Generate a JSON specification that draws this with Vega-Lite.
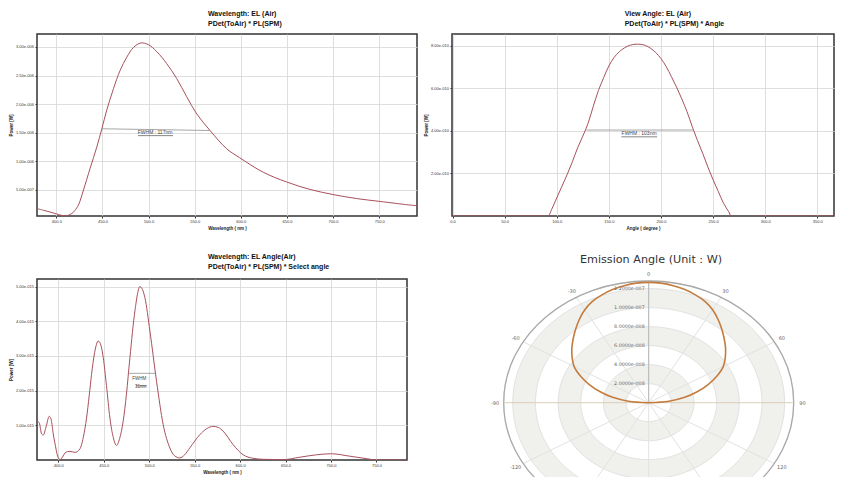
{
  "$schema": "https://vega.github.io/schema/vega-lite/v6.json",
  "background": "white",
  "padding": {"left": 7, "top": 9, "right": 0, "bottom": 0},
  "columns": 2,
  "spacing": {"row": 63, "column": 35},
  "bounds": "flush",
  "align": "each",
  "config": {
    "font": "Liberation Sans",
    "view": {"stroke": "#333333", "strokeWidth": 1.5},
    "axis": {"labelFontSize": 4, "titleFontSize": 4.5, "titleFontWeight": "bold", "labelColor": "#333333", "titleColor": "#222222", "gridColor": "#d6d6d6", "gridWidth": 0.8, "domain": false, "tickColor": "#333333", "tickSize": 2, "tickWidth": 1, "labelPadding": 1.5, "titlePadding": 2, "labelFont": "Liberation Sans", "titleFont": "Liberation Sans", "labelFlush": false, "labelOverlap": false, "tickCount": 20},
    "title": {"font": "Liberation Sans", "fontSize": 7, "fontWeight": "bold", "color": "#111111", "anchor": "start", "align": "left", "lineHeight": 10, "offset": 7, "frame": "group"}
  },
  "concat": [
    {
      "width": 380, "height": 182,
      "title": {"text": ["Wavelength: EL (Air)", "PDet(ToAir) * PL(SPM)"], "dx": 171},
      "layer": [
        {
          "data": {"values": [
            {"wl": 379, "p": 1.75e-7}, {"wl": 386, "p": 1.45e-7}, {"wl": 393, "p": 1.15e-7}, {"wl": 400, "p": 8.2e-8},
            {"wl": 405, "p": 5.8e-8}, {"wl": 409.5, "p": 4.8e-8}, {"wl": 413, "p": 5.8e-8}, {"wl": 416.8, "p": 9e-8},
            {"wl": 420, "p": 1.4e-7}, {"wl": 424, "p": 2.4e-7}, {"wl": 429.4, "p": 5.0e-7}, {"wl": 436.6, "p": 8.8e-7},
            {"wl": 443.8, "p": 1.25e-6}, {"wl": 449.3, "p": 1.57e-6}, {"wl": 454.7, "p": 1.9e-6}, {"wl": 461.9, "p": 2.27e-6},
            {"wl": 469.1, "p": 2.59e-6}, {"wl": 476.3, "p": 2.82e-6}, {"wl": 483.5, "p": 2.99e-6}, {"wl": 491.5, "p": 3.07e-6},
            {"wl": 499.8, "p": 3.04e-6}, {"wl": 508.8, "p": 2.92e-6}, {"wl": 519.6, "p": 2.71e-6}, {"wl": 530.4, "p": 2.45e-6},
            {"wl": 541.3, "p": 2.13e-6}, {"wl": 552.2, "p": 1.83e-6}, {"wl": 566.6, "p": 1.54e-6}, {"wl": 584.7, "p": 1.22e-6},
            {"wl": 598.6, "p": 1.065e-6}, {"wl": 624.3, "p": 8.1e-7}, {"wl": 649.6, "p": 6.4e-7}, {"wl": 674.9, "p": 5.1e-7},
            {"wl": 700.1, "p": 4.2e-7}, {"wl": 725.5, "p": 3.5e-7}, {"wl": 750.7, "p": 3.0e-7}, {"wl": 781.4, "p": 2.4e-7},
            {"wl": 791, "p": 2.25e-7}
          ]},
          "mark": {"type": "line", "color": "#a8505c", "strokeWidth": 1, "interpolate": "catmull-rom", "clip": true},
          "encoding": {
            "x": {"field": "wl", "type": "quantitative", "scale": {"domain": [379, 791], "nice": false, "zero": false},
                  "axis": {"title": "Wavelength ( nm )", "values": [400, 450, 500, 550, 600, 650, 700, 750], "format": ".1f"}},
            "y": {"field": "p", "type": "quantitative", "scale": {"domain": [4.5e-8, 3.227e-6], "nice": false, "zero": false},
                  "axis": {"title": "Power [W]", "values": [5e-7, 1e-6, 1.5e-6, 2e-6, 2.5e-6, 3e-6], "labelExpr": "replace(format(datum.value, '.2e'), 'e-', 'e-00')"}}
          }
        },
        {
          "data": {"values": [
            {"wl": 449.5, "wl2": 566.6, "p": 1.57e-6, "p2": 1.54e-6, "kind": "fwhm"},
            {"wl": 488.5, "wl2": 526.5, "p": 1.45e-6, "p2": 1.45e-6, "kind": "underline"}
          ]},
          "mark": {"type": "rule", "strokeWidth": 0.8},
          "encoding": {
            "x": {"field": "wl", "type": "quantitative"}, "x2": {"field": "wl2"},
            "y": {"field": "p", "type": "quantitative"}, "y2": {"field": "p2"},
            "color": {"field": "kind", "type": "nominal", "scale": {"domain": ["fwhm", "underline"], "range": ["#8f8f8f", "#666666"]}, "legend": null}
          }
        },
        {
          "data": {"values": [{"wl": 507, "p": 1.51e-6, "label": "FWHM : 117nm"}]},
          "mark": {"type": "text", "fontSize": 5, "color": "#444444", "baseline": "middle"},
          "encoding": {"x": {"field": "wl", "type": "quantitative"}, "y": {"field": "p", "type": "quantitative"}, "text": {"field": "label", "type": "nominal"}}
        }
      ]
    },
    {
      "width": 382, "height": 182,
      "title": {"text": ["View Angle: EL (Air)", "PDet(ToAir) * PL(SPM) * Angle"], "dx": 172.7},
      "layer": [
        {
          "data": {"values": [
            {"angle": 0, "p": 0}, {"angle": 85, "p": 0}, {"angle": 91.7, "p": 0}, {"angle": 95, "p": 3e-11},
            {"angle": 100, "p": 8.5e-11}, {"angle": 105, "p": 1.4e-10}, {"angle": 110, "p": 1.95e-10}, {"angle": 115, "p": 2.55e-10},
            {"angle": 120, "p": 3.2e-10}, {"angle": 125, "p": 3.75e-10}, {"angle": 130, "p": 4.35e-10}, {"angle": 135, "p": 5.15e-10},
            {"angle": 140, "p": 5.9e-10}, {"angle": 145, "p": 6.5e-10}, {"angle": 150, "p": 7.05e-10}, {"angle": 155, "p": 7.45e-10},
            {"angle": 160, "p": 7.72e-10}, {"angle": 165, "p": 7.9e-10}, {"angle": 170, "p": 8.02e-10}, {"angle": 175, "p": 8.07e-10},
            {"angle": 180, "p": 8.07e-10}, {"angle": 185, "p": 8.02e-10}, {"angle": 190, "p": 7.88e-10}, {"angle": 195, "p": 7.68e-10},
            {"angle": 200, "p": 7.4e-10}, {"angle": 205, "p": 7.02e-10}, {"angle": 210, "p": 6.55e-10}, {"angle": 215, "p": 6.05e-10},
            {"angle": 220, "p": 5.5e-10}, {"angle": 225, "p": 4.9e-10}, {"angle": 230, "p": 4.2e-10}, {"angle": 235, "p": 3.55e-10},
            {"angle": 240, "p": 2.95e-10}, {"angle": 245, "p": 2.3e-10}, {"angle": 250, "p": 1.7e-10}, {"angle": 255, "p": 1.15e-10},
            {"angle": 260, "p": 6e-11}, {"angle": 265, "p": 2e-11}, {"angle": 267.5, "p": 0}, {"angle": 300, "p": 0}, {"angle": 366, "p": 0}
          ]},
          "mark": {"type": "line", "color": "#a8505c", "strokeWidth": 1, "interpolate": "catmull-rom", "clip": true},
          "encoding": {
            "x": {"field": "angle", "type": "quantitative", "scale": {"domain": [-0.5, 366], "nice": false, "zero": false},
                  "axis": {"title": "Angle ( degree )", "values": [0, 50, 100, 150, 200, 250, 300, 350], "format": ".1f"}},
            "y": {"field": "p", "type": "quantitative", "scale": {"domain": [0, 8.553e-10], "nice": false, "zero": false},
                  "axis": {"title": "Power [W]", "values": [2e-10, 4e-10, 6e-10, 8e-10], "labelExpr": "replace(format(datum.value, '.2e'), 'e-', 'e-0')"}}
          }
        },
        {
          "data": {"values": [
            {"angle": 128.5, "angle2": 230.7, "p": 4.04e-10, "kind": "fwhm"},
            {"angle": 162, "angle2": 196.3, "p": 3.72e-10, "kind": "underline"}
          ]},
          "mark": {"type": "rule", "strokeWidth": 0.8},
          "encoding": {
            "x": {"field": "angle", "type": "quantitative"}, "x2": {"field": "angle2"},
            "y": {"field": "p", "type": "quantitative"},
            "color": {"field": "kind", "type": "nominal", "scale": {"domain": ["fwhm", "underline"], "range": ["#8f8f8f", "#666666"]}, "legend": null}
          }
        },
        {
          "data": {"values": [{"angle": 179, "p": 3.88e-10, "label": "FWHM : 103nm"}]},
          "mark": {"type": "text", "fontSize": 5, "color": "#444444", "baseline": "middle"},
          "encoding": {"x": {"field": "angle", "type": "quantitative"}, "y": {"field": "p", "type": "quantitative"}, "text": {"field": "label", "type": "nominal"}}
        }
      ]
    },
    {
      "width": 370, "height": 181,
      "title": {"text": ["Wavelength: EL Angle(Air)", "PDet(ToAir) * PL(SPM) * Select angle"], "dx": 171, "offset": 9},
      "layer": [
        {
          "data": {"values": [
            {"wl": 376.6, "p": 1.12e-15}, {"wl": 379.1, "p": 1.07e-15}, {"wl": 381.7, "p": 7.5e-16}, {"wl": 383.5, "p": 7.2e-16},
            {"wl": 386.5, "p": 9.5e-16}, {"wl": 390.1, "p": 1.26e-15}, {"wl": 392.3, "p": 1.15e-15}, {"wl": 394.5, "p": 7.5e-16},
            {"wl": 396.8, "p": 4.2e-16}, {"wl": 398.9, "p": 1.5e-16}, {"wl": 401.8, "p": 1e-17}, {"wl": 404.5, "p": 8e-17},
            {"wl": 407.3, "p": 2.0e-16}, {"wl": 410, "p": 2.4e-16}, {"wl": 412.8, "p": 2.5e-16}, {"wl": 418.3, "p": 2.2e-16},
            {"wl": 423.8, "p": 3.2e-16}, {"wl": 427.5, "p": 6.5e-16}, {"wl": 431.1, "p": 1.21e-15}, {"wl": 434, "p": 1.85e-15},
            {"wl": 436.6, "p": 2.47e-15}, {"wl": 440, "p": 3.1e-15}, {"wl": 444, "p": 3.43e-15}, {"wl": 447, "p": 3.3e-15},
            {"wl": 449.5, "p": 2.95e-15}, {"wl": 453, "p": 2.15e-15}, {"wl": 456.8, "p": 1.21e-15}, {"wl": 460.5, "p": 6.5e-16},
            {"wl": 464.1, "p": 4.2e-16}, {"wl": 467.5, "p": 6.2e-16}, {"wl": 471.4, "p": 1.12e-15}, {"wl": 475, "p": 1.9e-15},
            {"wl": 478.8, "p": 2.95e-15}, {"wl": 484.3, "p": 4.3e-15}, {"wl": 489.8, "p": 5.0e-15}, {"wl": 495.3, "p": 4.68e-15},
            {"wl": 500.8, "p": 3.72e-15}, {"wl": 508.1, "p": 2.27e-15}, {"wl": 515.4, "p": 1.02e-15}, {"wl": 522.7, "p": 3.5e-16},
            {"wl": 528, "p": 1.2e-16}, {"wl": 533.7, "p": 6e-17}, {"wl": 539, "p": 1.5e-16}, {"wl": 544.7, "p": 3.5e-16},
            {"wl": 555.7, "p": 7.3e-16}, {"wl": 563, "p": 9.0e-16}, {"wl": 570.4, "p": 9.7e-16}, {"wl": 576, "p": 9.4e-16},
            {"wl": 581.4, "p": 8.3e-16}, {"wl": 592.4, "p": 4.4e-16}, {"wl": 603.4, "p": 1.5e-16}, {"wl": 614, "p": 5e-17},
            {"wl": 625.3, "p": 2e-17}, {"wl": 647.3, "p": 1e-17}, {"wl": 665.6, "p": 8e-17}, {"wl": 684, "p": 1.5e-16},
            {"wl": 700.4, "p": 1.8e-16}, {"wl": 720.6, "p": 1.1e-16}, {"wl": 738.9, "p": 4e-17}, {"wl": 749.9, "p": 0},
            {"wl": 783.6, "p": 0}
          ]},
          "mark": {"type": "line", "color": "#a8505c", "strokeWidth": 1, "interpolate": "monotone", "clip": true},
          "encoding": {
            "x": {"field": "wl", "type": "quantitative", "scale": {"domain": [376.6, 783.6], "nice": false, "zero": false},
                  "axis": {"title": "Wavelength ( nm )", "values": [400, 450, 500, 550, 600, 650, 700, 750], "format": ".1f"}},
            "y": {"field": "p", "type": "quantitative", "scale": {"domain": [0, 5.22e-15], "nice": false, "zero": false},
                  "axis": {"title": "Power [W]", "values": [1e-15, 2e-15, 3e-15, 4e-15, 5e-15], "labelExpr": "replace(format(datum.value, '.2e'), 'e-', 'e-0')"}}
          }
        },
        {
          "data": {"values": [
            {"wl": 476.5, "wl2": 506.5, "p": 2.5e-15, "kind": "fwhm"},
            {"wl": 485.5, "wl2": 497.5, "p": 2.14e-15, "kind": "underline"}
          ]},
          "mark": {"type": "rule", "strokeWidth": 0.8},
          "encoding": {
            "x": {"field": "wl", "type": "quantitative"}, "x2": {"field": "wl2"},
            "y": {"field": "p", "type": "quantitative"},
            "color": {"field": "kind", "type": "nominal", "scale": {"domain": ["fwhm", "underline"], "range": ["#8f8f8f", "#666666"]}, "legend": null}
          }
        },
        {
          "data": {"values": [{"wl": 490.5, "p": 2.33e-15, "label": "FWHM :|31nm"}]},
          "transform": [{"calculate": "split(datum.label, '|')", "as": "lines"}],
          "mark": {"type": "text", "fontSize": 4.5, "color": "#444444", "baseline": "middle", "lineHeight": 7.5},
          "encoding": {"x": {"field": "wl", "type": "quantitative"}, "y": {"field": "p", "type": "quantitative"}, "text": {"field": "lines"}}
        }
      ]
    },
    {
      "width": 382, "height": 240,
      "view": {"stroke": null},
      "title": {"text": "Emission Angle (Unit : W)", "font": "DejaVu Sans", "fontSize": 11.2, "fontWeight": "normal", "color": "#333333", "anchor": "middle", "align": "center", "dx": 8, "offset": 6},
      "layer": [
        {
          "data": {"values": [
            {"r": 1.28e-7, "band": "w"}, {"r": 1.2e-7, "band": "g"}, {"r": 1.0e-7, "band": "w"},
            {"r": 8e-8, "band": "g"}, {"r": 6e-8, "band": "w"}, {"r": 4e-8, "band": "g"}, {"r": 2e-8, "band": "w"}
          ]},
          "transform": [{"calculate": "0", "as": "o"}],
          "mark": {"type": "point", "shape": "M-1,0A1,0.8393,0,1,1,1,0A1,0.8393,0,1,1,-1,0Z", "filled": true, "opacity": 1, "stroke": "#e2e2e2", "strokeWidth": 1},
          "encoding": {
            "x": {"field": "o", "type": "quantitative", "scale": {"domain": [-1.7364e-7, 1.6358e-7], "nice": false, "zero": false}, "axis": null},
            "y": {"field": "o", "type": "quantitative", "scale": {"domain": [-1.2232e-7, 1.301e-7], "nice": false, "zero": false}, "axis": null},
            "size": {"field": "r", "type": "quantitative", "scale": {"type": "pow", "exponent": 2, "domain": [0, 1.28e-7], "range": [0, 84100]}, "legend": null},
            "fill": {"field": "band", "type": "nominal", "scale": {"domain": ["w", "g"], "range": ["#ffffff", "#f0f0ed"]}, "legend": null}
          }
        },
        {
          "data": {"values": [{"angle": 0}, {"angle": 30}, {"angle": 60}, {"angle": 120}, {"angle": 150}, {"angle": 180}, {"angle": 210}, {"angle": 240}, {"angle": 300}, {"angle": 330}]},
          "transform": [
            {"calculate": "0", "as": "o"},
            {"calculate": "1.28e-7 * sin(datum.angle * PI / 180)", "as": "ex"},
            {"calculate": "1.28e-7 * cos(datum.angle * PI / 180)", "as": "ey"}
          ],
          "mark": {"type": "rule", "color": "#e2e2e2", "strokeWidth": 1},
          "encoding": {
            "x": {"field": "o", "type": "quantitative", "axis": null},
            "y": {"field": "o", "type": "quantitative", "axis": null},
            "x2": {"field": "ex"},
            "y2": {"field": "ey"}
          }
        },
        {
          "data": {"values": [{"r": 1.28e-7}]},
          "transform": [{"calculate": "0", "as": "o"}],
          "mark": {"type": "point", "shape": "M-1,0A1,0.8393,0,1,1,1,0A1,0.8393,0,1,1,-1,0Z", "filled": false, "opacity": 1, "color": "#a9a9a9", "strokeWidth": 1.3},
          "encoding": {
            "x": {"field": "o", "type": "quantitative", "axis": null},
            "y": {"field": "o", "type": "quantitative", "axis": null},
            "size": {"field": "r", "type": "quantitative", "legend": null}
          }
        },
        {
          "data": {"values": [{"r": -1.28e-7, "r2": 1.28e-7}]},
          "transform": [{"calculate": "0", "as": "o"}],
          "mark": {"type": "rule", "color": "#d9cfb6", "strokeWidth": 1},
          "encoding": {
            "x": {"field": "r", "type": "quantitative", "axis": null},
            "x2": {"field": "r2"},
            "y": {"field": "o", "type": "quantitative", "axis": null}
          }
        },
        {
          "data": {"values": [{"r": 0, "r2": 1.28e-7}]},
          "transform": [{"calculate": "0", "as": "o"}],
          "mark": {"type": "rule", "color": "#b5b5b5", "strokeWidth": 1},
          "encoding": {
            "x": {"field": "o", "type": "quantitative", "axis": null},
            "y": {"field": "r", "type": "quantitative", "axis": null},
            "y2": {"field": "r2"}
          }
        },
        {
          "data": {"values": [
            {"angle": -90, "r": 0}, {"angle": -85, "r": 1.8e-8}, {"angle": -80, "r": 3.23e-8}, {"angle": -75, "r": 4.43e-8},
            {"angle": -70, "r": 5.58e-8}, {"angle": -65, "r": 6.65e-8}, {"angle": -60, "r": 7.6e-8}, {"angle": -55, "r": 8.25e-8},
            {"angle": -50, "r": 8.86e-8}, {"angle": -45, "r": 9.44e-8}, {"angle": -40, "r": 1.005e-7}, {"angle": -35, "r": 1.068e-7},
            {"angle": -30, "r": 1.128e-7}, {"angle": -25, "r": 1.175e-7}, {"angle": -20, "r": 1.207e-7}, {"angle": -15, "r": 1.232e-7},
            {"angle": -10, "r": 1.25e-7}, {"angle": -5, "r": 1.262e-7}, {"angle": 0, "r": 1.266e-7}, {"angle": 5, "r": 1.262e-7},
            {"angle": 10, "r": 1.25e-7}, {"angle": 15, "r": 1.232e-7}, {"angle": 20, "r": 1.207e-7}, {"angle": 25, "r": 1.175e-7},
            {"angle": 30, "r": 1.128e-7}, {"angle": 35, "r": 1.068e-7}, {"angle": 40, "r": 1.005e-7}, {"angle": 45, "r": 9.44e-8},
            {"angle": 50, "r": 8.86e-8}, {"angle": 55, "r": 8.25e-8}, {"angle": 60, "r": 7.6e-8}, {"angle": 65, "r": 6.65e-8},
            {"angle": 70, "r": 5.58e-8}, {"angle": 75, "r": 4.43e-8}, {"angle": 80, "r": 3.23e-8}, {"angle": 85, "r": 1.8e-8},
            {"angle": 90, "r": 0}
          ]},
          "transform": [
            {"calculate": "datum.r * sin(datum.angle * PI / 180)", "as": "px"},
            {"calculate": "datum.r * cos(datum.angle * PI / 180)", "as": "py"}
          ],
          "mark": {"type": "line", "color": "#c47c3e", "strokeWidth": 1.6, "interpolate": "catmull-rom"},
          "encoding": {
            "x": {"field": "px", "type": "quantitative", "axis": null},
            "y": {"field": "py", "type": "quantitative", "axis": null},
            "order": {"field": "angle", "type": "quantitative"}
          }
        },
        {
          "data": {"values": [
            {"r": 2e-8, "label": "2.0000e-008"}, {"r": 4e-8, "label": "4.0000e-008"}, {"r": 6e-8, "label": "6.0000e-008"},
            {"r": 8e-8, "label": "8.0000e-008"}, {"r": 1.0e-7, "label": "1.0000e-007"}, {"r": 1.2e-7, "label": "1.2000e-007"}
          ]},
          "transform": [{"calculate": "0", "as": "o"}],
          "mark": {"type": "text", "font": "DejaVu Sans", "fontSize": 4.8, "color": "#666666", "align": "right", "baseline": "middle", "dx": -4},
          "encoding": {
            "x": {"field": "o", "type": "quantitative", "axis": null},
            "y": {"field": "r", "type": "quantitative", "axis": null},
            "text": {"field": "label", "type": "nominal"}
          }
        },
        {
          "data": {"values": [
            {"angle": 0, "label": "0"}, {"angle": 30, "label": "30"}, {"angle": 60, "label": "60"}, {"angle": 90, "label": "90"},
            {"angle": 120, "label": "120"}, {"angle": -120, "label": "-120"}, {"angle": -90, "label": "-90"}, {"angle": -60, "label": "-60"}, {"angle": -30, "label": "-30"}
          ]},
          "transform": [
            {"calculate": "1.357e-7 * sin(datum.angle * PI / 180)", "as": "lx"},
            {"calculate": "1.357e-7 * cos(datum.angle * PI / 180)", "as": "ly"}
          ],
          "mark": {"type": "text", "font": "DejaVu Sans", "fontSize": 5, "color": "#666666", "align": "center", "baseline": "middle"},
          "encoding": {
            "x": {"field": "lx", "type": "quantitative", "axis": null},
            "y": {"field": "ly", "type": "quantitative", "axis": null},
            "text": {"field": "label", "type": "nominal"}
          }
        }
      ]
    }
  ]
}
